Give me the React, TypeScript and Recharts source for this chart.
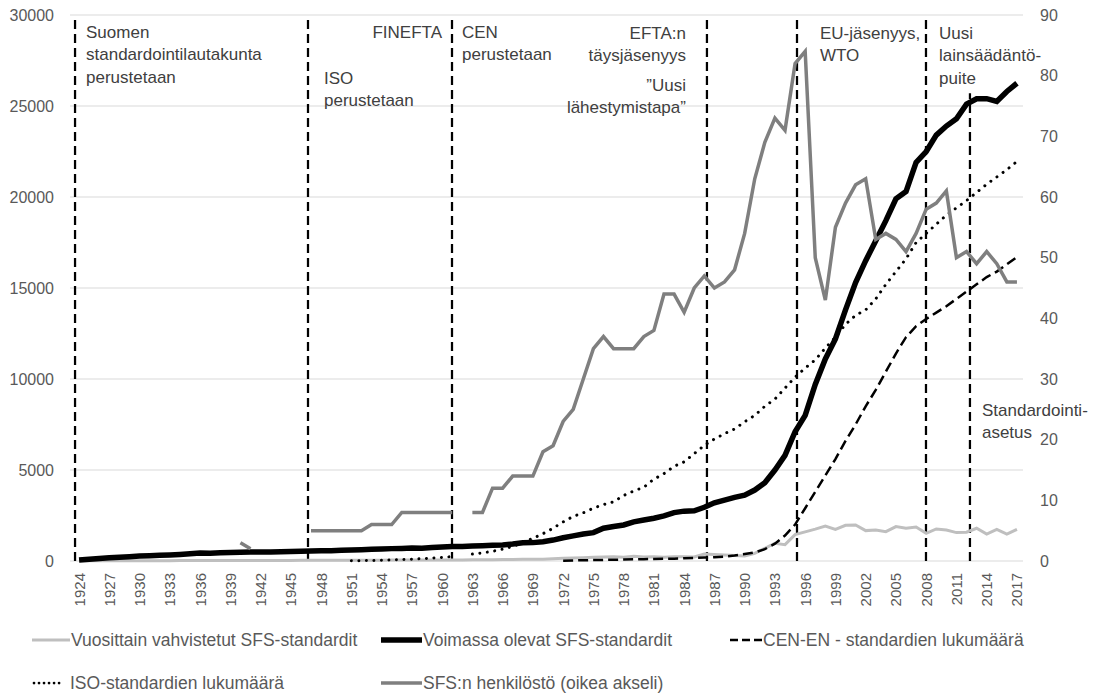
import React from 'react';
import {
  LineChart,
  Line,
  XAxis,
  YAxis,
  CartesianGrid,
  ReferenceLine,
  Legend,
} from 'recharts';

const FONT = "'Liberation Sans', Arial, sans-serif";

// categories: 1924 ... 2017
const years: number[] = Array.from({ length: 94 }, (_, i) => 1924 + i);
const yearTicks: number[] = years.filter((y) => (y - 1924) % 3 === 0);
const leftTicks = [0, 5000, 10000, 15000, 20000, 25000, 30000];
const rightTicks = [0, 10, 20, 30, 40, 50, 60, 70, 80, 90];

const gap = (n: number): null[] => Array(n).fill(null);

// Vuosittain vahvistetut SFS-standardit
const annual: number[] = [
  10, 10, 10, 15, 15, 15, 20, 20, 20, 20, // 1924-1933
  25, 25, 25, 25, 25, 30, 30, 30, 30, 30, // 1934-1943
  30, 30, 35, 35, 35, 40, 40, 40, 40, 45, // 1944-1953
  45, 50, 50, 50, 55, 55, 60, 60, 60, 65, // 1954-1963
  70, 75, 80, 85, 90, 95, 100, 120, 150, 170, // 1964-1973
  180, 200, 220, 240, 200, 260, 220, 230, 210, 240, // 1974-1983
  230, 220, 380, 360, 330, 300, 270, 420, 700, 970, // 1984-1993
  900, 1450, 1600, 1750, 1920, 1740, 1960, 1980, 1670, 1700, // 1994-2003
  1610, 1890, 1800, 1870, 1520, 1760, 1700, 1560, 1580, 1800, // 2004-2013
  1480, 1740, 1480, 1740, // 2014-2017
];

// Voimassa olevat SFS-standardit
const valid: number[] = [
  50, 100, 140, 180, 210, 240, 270, 290, 310, 330, // 1924-1933
  360, 400, 440, 430, 450, 470, 480, 490, 490, 500, // 1934-1943
  510, 520, 530, 550, 560, 570, 590, 600, 620, 640, // 1944-1953
  660, 680, 690, 710, 700, 740, 770, 790, 800, 820, // 1954-1963
  840, 870, 880, 930, 1000, 1010, 1060, 1150, 1280, 1380, // 1964-1973
  1480, 1560, 1800, 1900, 1980, 2150, 2250, 2350, 2480, 2660, // 1974-1983
  2740, 2760, 2950, 3200, 3350, 3500, 3620, 3900, 4300, 5000, // 1984-1993
  5800, 7100, 8000, 9700, 11100, 12200, 13800, 15300, 16500, 17600, // 1994-2003
  18700, 19900, 20300, 21900, 22500, 23400, 23900, 24300, 25100, 25400, // 2004-2013
  25400, 25250, 25800, 26250, // 2014-2017
];

// CEN-EN - standardien lukumäärä
const cen: (number | null)[] = [
  ...gap(48), // 1924-1971
  20, 30, 40, 50, 60, 70, 80, 90, 100, 110, // 1972-1981
  120, 130, 150, 170, 190, 210, 240, 300, 380, 470, // 1982-1991
  650, 950, 1400, 2000, 2900, 3800, 4700, 5600, 6600, 7500, // 1992-2001
  8500, 9400, 10400, 11400, 12300, 12900, 13300, 13650, 14000, 14400, // 2002-2011
  14800, 15200, 15600, 15900, 16300, 16700, // 2012-2017
];

// ISO-standardien lukumäärä
const iso: (number | null)[] = [
  ...gap(27), // 1924-1950
  10, 20, 30, 40, 60, 80, 100, 130, 160, 200, // 1951-1960
  240, null, // 1961-1962
  380, 450, 530, 650, 800, 1000, 1250, 1500, 1800, 2150, // 1963-1972
  2450, 2650, 2900, 3100, 3250, 3600, 3850, 4050, 4500, 4800, // 1973-1982
  5200, 5450, 5900, 6350, 6700, 7000, 7250, 7650, 8000, 8500, // 1983-1992
  8900, 9500, 10100, 10600, 11050, 11700, 12300, 13000, 13500, 13800, // 1993-2002
  14400, 15200, 15900, 16600, 17500, 18000, 18500, 19000, 19400, 19800, // 2003-2012
  20250, 20700, 21100, 21500, 21950, // 2013-2017
];

// SFS:n henkilöstö (oikea akseli)
const staff: (number | null)[] = [
  ...gap(16), // 1924-1939
  3, 2, // 1940-1941
  ...gap(5), // 1942-1946
  5, 5, 5, 5, 5, 5, 6, 6, 6, 8, // 1947-1956
  8, 8, 8, 8, 8, null, // 1957-1962
  8, 8, 12, 12, 14, 14, 14, 18, 19, 23, // 1963-1972
  25, 30, 35, 37, 35, 35, 35, 37, 38, 44, // 1973-1982
  44, 41, 45, 47, 45, 46, 48, 54, 63, 69, // 1983-1992
  73, 71, 82, 84, 50, 43, 55, 59, 62, 63, // 1993-2002
  53, 54, 53, 51, 54, 58, 59, 61, 50, 51, // 2003-2012
  49, 51, 49, 46, 46, // 2013-2017
];

// milestones (vertical dashed lines) and their texts
const events = [
  { x: 1923.6, notes: [{ lines: ['Suomen', 'standardointilautakunta', 'perustetaan'], dx: 11, top: 32, anchor: 'start' }] },
  { x: 1946.7, notes: [{ lines: ['ISO', 'perustetaan'], dx: 16, top: 78, anchor: 'start' }] },
  {
    x: 1960.98,
    notes: [
      { lines: ['FINEFTA'], dx: -10, top: 32, anchor: 'end' },
      { lines: ['CEN', 'perustetaan'], dx: 10, top: 32, anchor: 'start' },
    ],
  },
  {
    x: 1986.26,
    notes: [
      { lines: ['EFTA:n', 'täysjäsenyys'], dx: -21, top: 33, anchor: 'end' },
      { lines: ['”Uusi', 'lähestymistapa”'], dx: -21, top: 85, anchor: 'end' },
    ],
  },
  { x: 1995.19, notes: [{ lines: ['EU-jäsenyys,', 'WTO'], dx: 23, top: 33, anchor: 'start' }] },
  { x: 2007.98, notes: [{ lines: ['Uusi', 'lainsäädäntö-', 'puite'], dx: 13, top: 33, anchor: 'start' }] },
  { x: 2012.34, top: 25700, notes: [{ lines: ['Standardointi-', 'asetus'], dx: 12, top: 410, anchor: 'start' }] },
];

const data = years.map((year, i) => ({
  year,
  annual: annual[i],
  valid: valid[i],
  cen: cen[i],
  iso: iso[i],
  staff: staff[i],
}));

const legendItems = [
  { key: 'annual', label: 'Vuosittain vahvistetut SFS-standardit', x: 32, row: 0, w: 38, stroke: '#BFBFBF', width: 3, dash: undefined as string | undefined, cap: 'butt' },
  { key: 'valid', label: 'Voimassa olevat SFS-standardit', x: 381, row: 0, w: 41, stroke: '#000000', width: 5.5, dash: undefined, cap: 'butt' },
  { key: 'cen', label: 'CEN-EN - standardien lukumäärä', x: 730, row: 0, w: 32, stroke: '#000000', width: 2.5, dash: '8 4', cap: 'butt' },
  { key: 'iso', label: 'ISO-standardien lukumäärä', x: 32, row: 1, w: 32, stroke: '#000000', width: 2.75, dash: '0.01 5', cap: 'round' },
  { key: 'staff', label: 'SFS:n henkilöstö (oikea akseli)', x: 381, row: 1, w: 41, stroke: '#7F7F7F', width: 3.5, dash: undefined, cap: 'butt' },
];
const legendRows = [640, 683];

const YearTick = (props: any) => {
  const { x, y, payload } = props;
  return (
    <text
      x={x}
      y={y}
      transform={`rotate(-90 ${x} ${y})`}
      textAnchor="end"
      dominantBaseline="central"
      fontFamily={FONT}
      fontSize={15}
      fill="#595959"
    >
      {payload.value}
    </text>
  );
};

const renderNotes = (notes: any[]) => (props: any) => {
  const x = props.viewBox.x;
  return (
    <g>
      {notes.map((n, j) =>
        n.lines.map((t: string, i: number) => (
          <text
            key={`${j}-${i}`}
            x={x + n.dx}
            y={n.top + i * 22.5}
            textAnchor={n.anchor}
            dominantBaseline="central"
            fontFamily={FONT}
            fontSize={17}
            fill="#404040"
          >
            {t}
          </text>
        ))
      )}
    </g>
  );
};

const LegendBox = () => (
  <div style={{ position: 'relative', width: 1100, height: 0, fontFamily: FONT, fontSize: 17.5, color: '#595959' }}>
    {legendItems.map((it) => (
      <div
        key={it.key}
        style={{
          position: 'absolute',
          left: it.x,
          top: legendRows[it.row] - 12,
          height: 24,
          display: 'flex',
          alignItems: 'center',
          whiteSpace: 'nowrap',
        }}
      >
        <svg width={it.w} height={24} style={{ display: 'block' }}>
          <line
            x1={it.cap === 'round' ? 2 : 0}
            x2={it.w}
            y1={12}
            y2={12}
            stroke={it.stroke}
            strokeWidth={it.width}
            strokeDasharray={it.dash}
            strokeLinecap={it.cap as any}
          />
        </svg>
        <span style={{ marginLeft: it.key === 'iso' ? 6 : 1 }}>{it.label}</span>
      </div>
    ))}
  </div>
);

const App: React.FC = () => (
  <div style={{ position: 'absolute', left: 0, top: 0, width: 1100, height: 694, background: '#fff' }}>
    <LineChart width={1100} height={694} data={data} margin={{ top: 15, right: 17, left: 0, bottom: 73 }}>
      <CartesianGrid yAxisId="left" vertical={false} stroke="#D9D9D9" strokeWidth={1} />
      <XAxis
        dataKey="year"
        type="number"
        domain={[1923.1, 2017.6]}
        ticks={yearTicks}
        interval={0}
        tick={<YearTick />}
        tickSize={0}
        tickMargin={12}
        axisLine={false}
        tickLine={false}
        height={60}
        allowDataOverflow
      />
      <YAxis
        yAxisId="left"
        domain={[0, 30000]}
        ticks={leftTicks}
        width={70}
        tickSize={0}
        tickMargin={16}
        axisLine={false}
        tickLine={false}
        tick={{ fontFamily: FONT, fontSize: 16, fill: '#595959' }}
      />
      <YAxis
        yAxisId="right"
        orientation="right"
        domain={[0, 90]}
        ticks={rightTicks}
        width={60}
        tickSize={0}
        tickMargin={17}
        axisLine={false}
        tickLine={false}
        tick={{ fontFamily: FONT, fontSize: 16, fill: '#595959' }}
      />
      {events.map((e) =>
        e.top ? (
          <ReferenceLine
            key={e.x}
            yAxisId="left"
            segment={[{ x: e.x, y: 0 }, { x: e.x, y: e.top }]}
            stroke="#000"
            strokeWidth={2.25}
            strokeDasharray="9 5"
            label={renderNotes(e.notes)}
          />
        ) : (
          <ReferenceLine
            key={e.x}
            yAxisId="left"
            x={e.x}
            stroke="#000"
            strokeWidth={2.25}
            strokeDasharray="9 5"
            label={renderNotes(e.notes)}
          />
        )
      )}
      <Line yAxisId="left" type="linear" dataKey="annual" name="Vuosittain vahvistetut SFS-standardit" stroke="#BFBFBF" strokeWidth={3} dot={false} isAnimationActive={false} />
      <Line yAxisId="left" type="linear" dataKey="valid" name="Voimassa olevat SFS-standardit" stroke="#000000" strokeWidth={5.5} dot={false} isAnimationActive={false} />
      <Line yAxisId="left" type="linear" dataKey="cen" name="CEN-EN - standardien lukumäärä" stroke="#000000" strokeWidth={2.5} strokeDasharray="10 5" dot={false} isAnimationActive={false} />
      <Line yAxisId="left" type="linear" dataKey="iso" name="ISO-standardien lukumäärä" stroke="#000000" strokeWidth={3} strokeDasharray="0.01 7.5" strokeLinecap="round" dot={false} isAnimationActive={false} />
      <Line yAxisId="right" type="linear" dataKey="staff" name="SFS:n henkilöstö (oikea akseli)" stroke="#7F7F7F" strokeWidth={3.5} dot={false} isAnimationActive={false} />
      <Legend
        content={<LegendBox />}
        wrapperStyle={{ position: 'absolute', left: 0, top: 0, bottom: 'auto', width: 1100, height: 0 }}
      />
    </LineChart>
  </div>
);

export default App;
